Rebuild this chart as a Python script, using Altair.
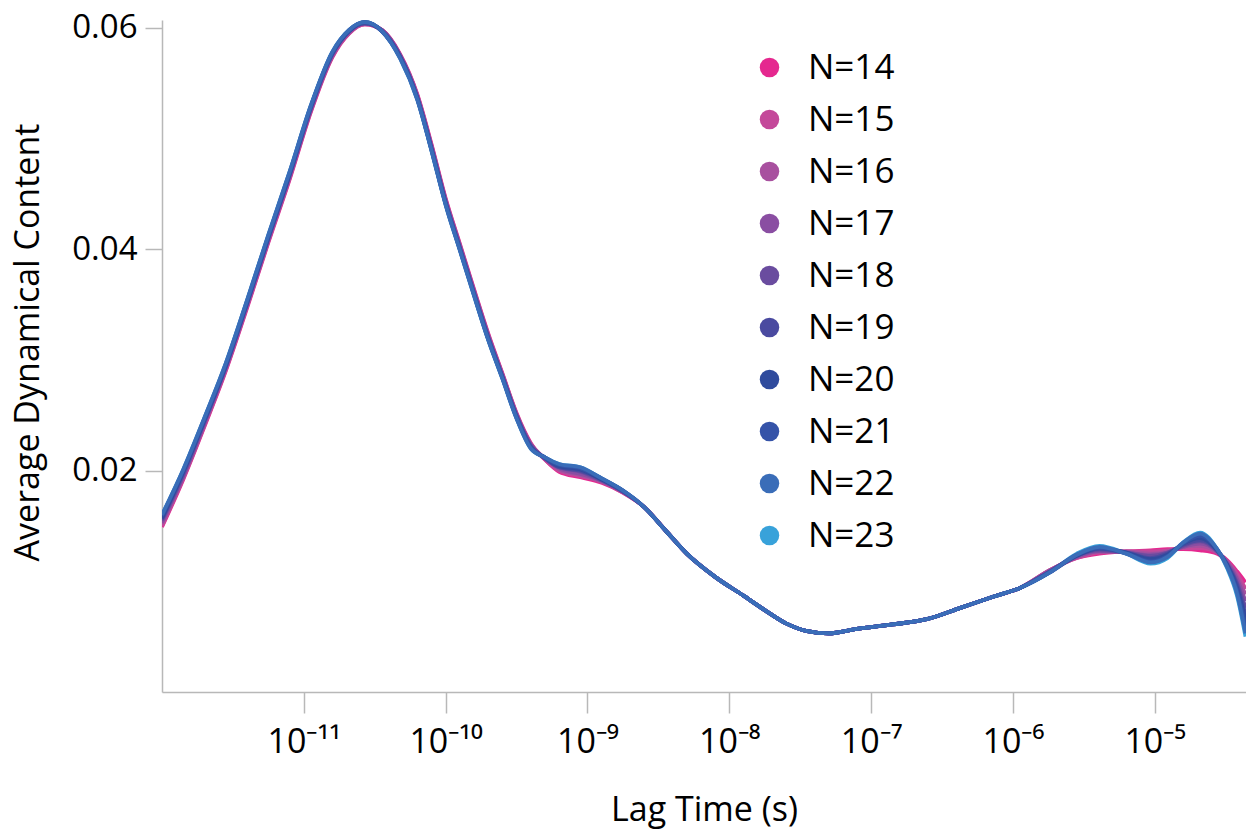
import altair as alt
import pandas as pd
import math

# log10 of lag time (s) at which values were read
log_lag = [-12.00, -11.85, -11.70, -11.55, -11.40, -11.25, -11.10, -10.95, -10.80, -10.68,
           -10.57, -10.45, -10.32, -10.20, -10.10, -10.00, -9.90, -9.80, -9.70, -9.60,
           -9.50, -9.40, -9.30, -9.20, -9.05, -8.90, -8.75, -8.60,
           -8.45, -8.30, -8.10, -7.90, -7.75, -7.60, -7.45, -7.30, -7.10, -6.85, -6.60, -6.37, -6.14, -5.95,
           -5.74, -5.55, -5.39, -5.20, -5.03, -4.91, -4.80, -4.68, -4.56, -4.49, -4.42, -4.36]

# region where all curves coincide
shared_mid = [0.0146, 0.0125, 0.0104, 0.0087, 0.0074, 0.0062, 0.0055, 0.0053, 0.0057, 0.0061,
              0.0066, 0.0076, 0.0086, 0.0094]

n14 = [0.0149, 0.0192, 0.0240, 0.0290, 0.0347, 0.0406, 0.0463, 0.0524, 0.0573, 0.0595, 0.0603, 0.0598, 0.0576, 0.0540,
       0.0495, 0.0446, 0.0405, 0.0364, 0.0324, 0.0288, 0.0252, 0.0225, 0.0210, 0.0199, 0.0194, 0.0189, 0.0180, 0.0167] + shared_mid + \
      [0.0110, 0.0121, 0.0125, 0.0127, 0.0128, 0.0129, 0.0129, 0.0128, 0.0125, 0.0119, 0.0109, 0.0099]
n15 = [0.0150, 0.0193, 0.0241, 0.0291, 0.0348, 0.0407, 0.0464, 0.0525, 0.0574, 0.0595, 0.0603, 0.0598, 0.0575, 0.0539,
       0.0494, 0.0445, 0.0404, 0.0363, 0.0323, 0.0287, 0.0251, 0.0224, 0.0210, 0.0200, 0.0195, 0.0190, 0.0180, 0.0167] + shared_mid + \
      [0.0110, 0.0121, 0.0126, 0.0127, 0.0127, 0.0128, 0.0130, 0.0130, 0.0126, 0.0118, 0.0107, 0.0093]
n16 = [0.0152, 0.0194, 0.0242, 0.0292, 0.0349, 0.0408, 0.0465, 0.0526, 0.0574, 0.0596, 0.0604, 0.0598, 0.0575, 0.0539,
       0.0493, 0.0444, 0.0403, 0.0362, 0.0322, 0.0287, 0.0251, 0.0224, 0.0211, 0.0201, 0.0196, 0.0190, 0.0181, 0.0167] + shared_mid + \
      [0.0110, 0.0122, 0.0127, 0.0127, 0.0125, 0.0127, 0.0131, 0.0132, 0.0126, 0.0118, 0.0104, 0.0088]
n17 = [0.0153, 0.0195, 0.0243, 0.0293, 0.0350, 0.0409, 0.0466, 0.0526, 0.0575, 0.0596, 0.0604, 0.0598, 0.0575, 0.0538,
       0.0493, 0.0444, 0.0403, 0.0362, 0.0322, 0.0286, 0.0250, 0.0223, 0.0211, 0.0202, 0.0197, 0.0191, 0.0181, 0.0167] + shared_mid + \
      [0.0109, 0.0122, 0.0127, 0.0126, 0.0124, 0.0126, 0.0131, 0.0134, 0.0127, 0.0117, 0.0102, 0.0082]
n18 = [0.0155, 0.0196, 0.0244, 0.0294, 0.0351, 0.0410, 0.0467, 0.0527, 0.0576, 0.0597, 0.0604, 0.0598, 0.0574, 0.0537,
       0.0492, 0.0443, 0.0402, 0.0361, 0.0321, 0.0285, 0.0250, 0.0223, 0.0211, 0.0203, 0.0199, 0.0191, 0.0181, 0.0167] + shared_mid + \
      [0.0109, 0.0123, 0.0128, 0.0126, 0.0123, 0.0126, 0.0132, 0.0136, 0.0127, 0.0116, 0.0099, 0.0076]
n19 = [0.0156, 0.0198, 0.0245, 0.0294, 0.0351, 0.0410, 0.0467, 0.0528, 0.0576, 0.0597, 0.0604, 0.0597, 0.0574, 0.0537,
       0.0491, 0.0442, 0.0401, 0.0360, 0.0320, 0.0285, 0.0249, 0.0222, 0.0211, 0.0203, 0.0200, 0.0192, 0.0181, 0.0167] + shared_mid + \
      [0.0109, 0.0123, 0.0129, 0.0126, 0.0121, 0.0125, 0.0133, 0.0137, 0.0128, 0.0115, 0.0097, 0.0070]
n20 = [0.0157, 0.0199, 0.0246, 0.0295, 0.0352, 0.0411, 0.0468, 0.0529, 0.0577, 0.0597, 0.0605, 0.0597, 0.0573, 0.0536,
       0.0490, 0.0441, 0.0400, 0.0359, 0.0319, 0.0284, 0.0248, 0.0221, 0.0212, 0.0204, 0.0201, 0.0192, 0.0182, 0.0167] + shared_mid + \
      [0.0108, 0.0123, 0.0130, 0.0126, 0.0120, 0.0124, 0.0134, 0.0139, 0.0128, 0.0115, 0.0094, 0.0065]
n21 = [0.0159, 0.0200, 0.0247, 0.0296, 0.0353, 0.0412, 0.0469, 0.0529, 0.0577, 0.0598, 0.0605, 0.0597, 0.0573, 0.0536,
       0.0490, 0.0441, 0.0400, 0.0359, 0.0319, 0.0284, 0.0248, 0.0221, 0.0212, 0.0205, 0.0202, 0.0193, 0.0182, 0.0167] + shared_mid + \
      [0.0108, 0.0124, 0.0130, 0.0125, 0.0118, 0.0123, 0.0134, 0.0141, 0.0129, 0.0114, 0.0092, 0.0059]
n22 = [0.0160, 0.0201, 0.0248, 0.0297, 0.0354, 0.0413, 0.0470, 0.0530, 0.0578, 0.0598, 0.0605, 0.0597, 0.0572, 0.0535,
       0.0489, 0.0440, 0.0399, 0.0358, 0.0318, 0.0283, 0.0247, 0.0220, 0.0212, 0.0206, 0.0203, 0.0193, 0.0182, 0.0167] + shared_mid + \
      [0.0108, 0.0124, 0.0131, 0.0125, 0.0117, 0.0122, 0.0135, 0.0143, 0.0129, 0.0113, 0.0089, 0.0053]
n23 = [0.0160, 0.0201, 0.0248, 0.0297, 0.0354, 0.0413, 0.0470, 0.0530, 0.0578, 0.0598, 0.0605, 0.0597, 0.0572, 0.0535,
       0.0489, 0.0440, 0.0399, 0.0358, 0.0318, 0.0283, 0.0247, 0.0220, 0.0212, 0.0206, 0.0203, 0.0193, 0.0182, 0.0167] + shared_mid + \
      [0.0108, 0.0125, 0.0132, 0.0125, 0.0116, 0.0121, 0.0135, 0.0144, 0.0129, 0.0112, 0.0087, 0.0050]

series_names = ["N=14", "N=15", "N=16", "N=17", "N=18", "N=19", "N=20", "N=21", "N=22", "N=23"]
series_values = [n14, n15, n16, n17, n18, n19, n20, n21, n22, n23]
series_colors = ["#e5288f", "#c4489a", "#a8509f", "#8a4ea2", "#6a4c9f", "#4a4aa0", "#2f4b9d", "#3553a8", "#3a6db8", "#38a2da"]

x_tick_values = [1e-11, 1e-10, 1e-9, 1e-8, 1e-7, 1e-6, 1e-5]
x_tick_labels = ["10⁻¹¹", "10⁻¹⁰", "10⁻⁹", "10⁻⁸", "10⁻⁷", "10⁻⁶", "10⁻⁵"]
y_tick_values = [0.02, 0.04, 0.06]

rows = []
for name, vals in zip(series_names, series_values):
    for e, v in zip(log_lag, vals):
        rows.append({"series": name, "lag": 10 ** e, "content": v})
df = pd.DataFrame(rows)

# label expression: map tick value -> label
expr = "''"
for tv, lab in zip(x_tick_values, x_tick_labels):
    expr = f"(abs(log(datum.value)/LN10 - ({round(math.log10(tv))})) < 0.1 ? '{lab}' : {expr})"

FONT = "Open Sans"

color_scale = alt.Scale(domain=series_names, range=series_colors)

x_enc = alt.X(
    "lag:Q",
    scale=alt.Scale(type="log", domain=[1e-12, 4.4e-5], nice=False),
    axis=alt.Axis(values=x_tick_values, labelExpr=expr, title="Lag Time (s)",
                  tickSize=21, labelPadding=12, titlePadding=34, labelFontSize=34),
)
y_enc = alt.Y(
    "content:Q",
    scale=alt.Scale(domain=[0, 0.0607], nice=False),
    axis=alt.Axis(values=y_tick_values, format=".2f", title="Average Dynamical Content",
                  tickSize=17, labelPadding=8, titlePadding=26, titleY=322),
)

base = alt.Chart(df).mark_line(strokeWidth=3.8, interpolate="monotone", clip=True).encode(
    x=x_enc,
    y=y_enc,
    color=alt.Color("series:N", scale=color_scale, legend=None),
    detail="series:N",
)
under = base.transform_filter(alt.datum.series == "N=23")
over = base.transform_filter(alt.datum.series != "N=23")

legend_layer = alt.Chart(pd.DataFrame({"series": series_names})).mark_circle(opacity=0).encode(
    x=alt.value(0),
    y=alt.value(0),
    color=alt.Color(
        "series:N",
        scale=color_scale,
        legend=alt.Legend(
            orient="none", legendX=590, legendY=30, title=None,
            symbolType="circle", symbolSize=380, symbolOpacity=1, symbolStrokeWidth=0,
            labelFont=FONT, labelFontSize=35, labelColor="black", labelOffset=21,
            rowPadding=16,
        ),
    ),
)

chart = (
    alt.layer(under, over, legend_layer)
    .resolve_scale(color="independent")
    .properties(
        width=1084, height=672,
        padding={"left": 162, "top": 20, "right": 0, "bottom": 142},
        autosize="none",
        background="white",
    )
    .configure_view(stroke=None)
    .configure_axis(
        labelFont=FONT, titleFont=FONT, labelFontSize=33, titleFontSize=34,
        titleFontWeight="normal", labelColor="black", titleColor="black",
        domainColor="#b8b8b8", tickColor="#b8b8b8", domainWidth=1.5, tickWidth=1.5,
        grid=False,
    )
)

chart.save("out.html", embed_options={"renderer": "svg", "actions": False})
